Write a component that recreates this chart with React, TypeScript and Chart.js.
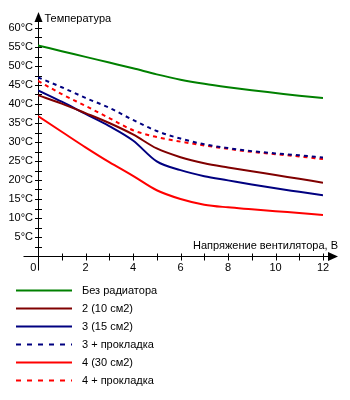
import React, { useEffect, useRef } from "react";
import { Chart, registerables } from "chart.js";

Chart.register(...registerables);

const voltages = [0, 1, 2, 3, 4, 5, 6, 7, 8, 9, 10, 11, 12];
const noRadiator = [55.4, 53.9, 52.4, 50.9, 49.4, 47.8, 46.4, 45.3, 44.4, 43.6, 42.9, 42.2, 41.6];
const rad2 = [42.3, 40.1, 37.6, 35.0, 32.0, 28.3, 26.0, 24.4, 23.3, 22.3, 21.3, 20.3, 19.3];
const rad3 = [43.6, 40.6, 37.4, 34.2, 30.4, 24.9, 22.6, 21.0, 19.9, 18.8, 17.8, 16.9, 16.0];
const rad3pad = [47.0, 44.4, 41.6, 39.0, 35.8, 32.9, 30.9, 29.4, 28.4, 27.6, 27.0, 26.5, 25.9];
const rad4 = [36.8, 32.7, 28.6, 24.7, 21.1, 17.3, 15.0, 13.5, 12.8, 12.3, 11.8, 11.3, 10.8];
const rad4pad = [46.1, 42.6, 39.5, 36.3, 33.1, 31.3, 30.1, 29.1, 28.2, 27.4, 26.8, 26.2, 25.5];

const seriesLabels = ["Без радиатора", "2 (10 см2)", "3 (15 см2)", "3 + прокладка", "4 (30 см2)", "4 + прокладка"];
const yTitle = "Температура";
const xTitle = "Напряжение вентилятора, В";

const FONT = "11px 'Liberation Sans', Arial, sans-serif";

const axesPlugin = {
  id: "customAxes",
  beforeDatasetsDraw(chart: any) {
    const ctx = chart.ctx;
    const xs = chart.scales.x;
    const ys = chart.scales.y;
    const x0 = Math.round(xs.getPixelForValue(0)) + 0.5;
    const y0 = Math.round(ys.getPixelForValue(0)) + 0.5;
    const yTop = ys.getPixelForValue(60);
    const xEnd = xs.getPixelForValue(12);
    ctx.save();
    ctx.strokeStyle = "#000";
    ctx.fillStyle = "#000";
    ctx.lineWidth = 1;
    ctx.beginPath();
    ctx.moveTo(x0, y0 + 14);
    ctx.lineTo(x0, yTop - 12);
    ctx.moveTo(x0 - 15, y0);
    ctx.lineTo(xEnd + 10, y0);
    // y ticks
    ys.ticks.forEach((t: any) => {
      const p = Math.round(ys.getPixelForValue(t.value)) + 0.5;
      if (t.value === 0) return;
      ctx.moveTo(x0 - 3.5, p);
      ctx.lineTo(x0 + 3.5, p);
    });
    xs.ticks.forEach((t: any) => {
      const p = Math.round(xs.getPixelForValue(t.value)) + 0.5;
      if (t.value === 0) return;
      ctx.moveTo(p, y0 - 3);
      ctx.lineTo(p, y0 + 4);
    });
    ctx.stroke();
    // arrows
    ctx.beginPath();
    ctx.moveTo(x0, yTop - 16);
    ctx.lineTo(x0 - 4, yTop - 6);
    ctx.lineTo(x0 + 4, yTop - 6);
    ctx.closePath();
    ctx.fill();
    ctx.beginPath();
    ctx.moveTo(xEnd + 15, y0);
    ctx.lineTo(xEnd + 5, y0 - 4.5);
    ctx.lineTo(xEnd + 5, y0 + 4.5);
    ctx.closePath();
    ctx.fill();
    // titles
    ctx.font = FONT;
    ctx.textBaseline = "middle";
    ctx.textAlign = "left";
    ctx.fillText(yTitle, x0 + 6, yTop - 9);
    ctx.textAlign = "right";
    ctx.fillText(xTitle, xEnd + 15, y0 - 11);
    ctx.restore();
  },
  afterDraw(chart: any) {
    const ctx = chart.ctx;
    ctx.save();
    ctx.font = FONT;
    ctx.textBaseline = "middle";
    ctx.textAlign = "left";
    chart.data.datasets.forEach((ds: any, i: number) => {
      const y = 290.5 + i * 18;
      ctx.strokeStyle = ds.borderColor;
      ctx.lineWidth = 2;
      ctx.setLineDash(ds.borderDash && ds.borderDash.length ? [5, 6] : []);
      ctx.beginPath();
      ctx.moveTo(16, y);
      ctx.lineTo(72, y);
      ctx.stroke();
      ctx.setLineDash([]);
      ctx.fillStyle = "#000";
      ctx.fillText(ds.label, 82, y);
    });
    ctx.restore();
  },
};

export default function App() {
  const ref = useRef<HTMLCanvasElement>(null);
  useEffect(() => {
    document.body.style.margin = "0";
    const colors = ["#008000", "#800000", "#000080", "#000080", "#ff0000", "#ff0000"];
    const values = [noRadiator, rad2, rad3, rad3pad, rad4, rad4pad];
    const dashed = [false, false, false, true, false, true];
    Chart.defaults.font.family = "'Liberation Sans', Arial, sans-serif";
    Chart.defaults.font.size = 11;
    Chart.defaults.color = "#000";
    const chart = new Chart(ref.current!, {
      type: "line",
      data: {
        labels: voltages,
        datasets: values.map((v, i) => ({
          label: seriesLabels[i],
          data: v.map((y, j) => ({ x: voltages[j], y })),
          borderColor: colors[i],
          backgroundColor: colors[i],
          borderWidth: 2,
          borderDash: dashed[i] ? [4, 4] : [],
          pointRadius: 0,
          tension: 0.3,
          cubicInterpolationMode: "monotone",
          fill: false,
        })),
      },
      options: {
        animation: false,
        responsive: false,
        events: [],
        layout: { padding: { left: 0, top: 28, right: 27, bottom: 124 } },
        plugins: { legend: { display: false }, tooltip: { enabled: false } },
        scales: {
          x: {
            type: "linear",
            min: 0,
            max: 12,
            grid: { display: false, drawTicks: false },
            border: { display: false },
            afterFit: (s: any) => { s.height = 20; },
            ticks: {
              stepSize: 1,
              autoSkip: false,
              maxRotation: 0,
              padding: 5,
              callback: (v: any) => (v === 0 ? "0   " : v % 2 === 0 ? String(v) : ""),
            },
          },
          y: {
            type: "linear",
            min: 0,
            max: 60,
            grid: { display: false, drawTicks: false },
            border: { display: false },
            afterFit: (s: any) => { s.width = 38; },
            ticks: {
              stepSize: 2.5,
              autoSkip: false,
              padding: 5,
              callback: (v: any) => (v !== 0 && v % 5 === 0 ? v + "°C" : ""),
            },
          },
        },
      } as any,
      plugins: [axesPlugin],
    });
    return () => chart.destroy();
  }, []);
  return <canvas ref={ref} width={350} height={400} style={{ display: "block" }} />;
}
